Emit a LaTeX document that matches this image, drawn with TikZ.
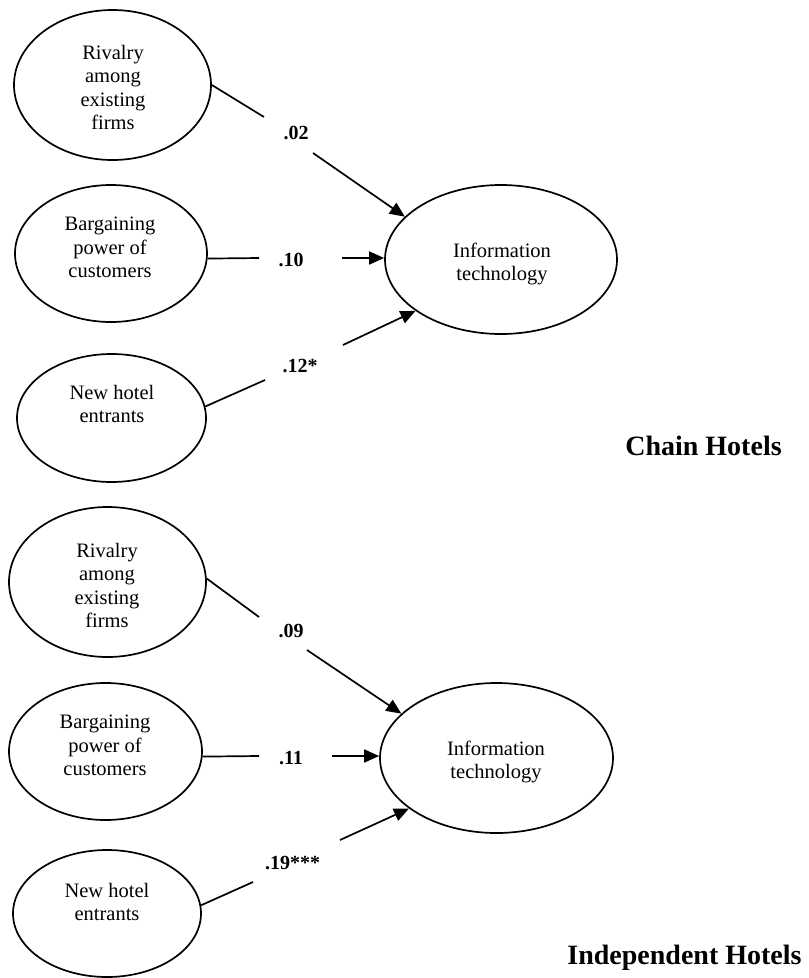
\documentclass[tikz,border=0pt]{standalone}
\usepackage{fontspec}
\setmainfont{Liberation Serif}
\usetikzlibrary{shapes.geometric,arrows.meta}
\begin{document}
\begin{tikzpicture}[x=1pt,y=-1pt,
  oval/.style={draw,ellipse,line width=1.7pt,inner sep=0pt},
  txt/.style={align=center,inner sep=0pt,font=\fontsize{20.5}{23.5}\selectfont},
  coef/.style={inner sep=0pt,anchor=base,font=\fontsize{20}{24}\selectfont\bfseries},
  grouplabel/.style={inner sep=0pt,anchor=base,font=\fontsize{28}{32}\selectfont\bfseries},
  link/.style={line width=1.7pt},
  arr/.style={link,-{Triangle[length=15pt,width=13pt]}}]
\useasboundingbox (0,0) rectangle (809,978);

% ---------- Chain hotels ----------
\node[oval,minimum width=197pt,minimum height=150pt] (r1) at (112.5,85) {};
\node[txt] (r1t) at (113,87.3) {Rivalry\\among\\existing\\firms};
\node[oval,minimum width=192pt,minimum height=137pt] (r2) at (111,253.5) {};
\node[txt] (r2t) at (110,247.5) {Bargaining\\power of\\customers};
\node[oval,minimum width=189pt,minimum height=128pt] (r3) at (111.5,418) {};
\node[txt] (r3t) at (112,404) {New hotel\\entrants};
\node[oval,minimum width=232pt,minimum height=149pt] (it1) at (501,259.5) {};
\node[txt] (it1t) at (502,264) {Information\\technology};

\node[coef] (k1) at (296,139.5) {.02};
\node[coef] (k2) at (291,266.5) {.10};
\node[coef] (k3) at (300,372.5) {.12*};

\coordinate (a1) at (264,117);  \coordinate (b1) at (313,153);
\coordinate (a2) at (259,258);  \coordinate (b2) at (342,258);
\coordinate (a3) at (265,380);  \coordinate (b3) at (343,345);

\draw[link] (r1.east) -- (a1);
\draw[arr] (b1) -- (it1.156);
\draw[link] (r2.-3) -- (a2);
\draw[arr] (b2) -- (it1.west |- b2);
\draw[link] (r3.7) -- (a3);
\draw[arr] (b3) -- (it1.211);

\node[grouplabel] (g1) at (703.5,455) {Chain Hotels};

% ---------- Independent hotels ----------
\node[oval,minimum width=197pt,minimum height=150pt] (r4) at (107.5,582) {};
\node[txt] (r4t) at (107,585.3) {Rivalry\\among\\existing\\firms};
\node[oval,minimum width=193pt,minimum height=137pt] (r5) at (105.5,751.5) {};
\node[txt] (r5t) at (105,745.5) {Bargaining\\power of\\customers};
\node[oval,minimum width=188pt,minimum height=127pt] (r6) at (107,913.5) {};
\node[txt] (r6t) at (107,902) {New hotel\\entrants};
\node[oval,minimum width=233pt,minimum height=150pt] (it2) at (496.5,758) {};
\node[txt] (it2t) at (496,762) {Information\\technology};

\node[coef] (k4) at (291,637) {.09};
\node[coef] (k5) at (291,764) {.11};
\node[coef] (k6) at (292.5,869) {.19***};

\coordinate (a4) at (259,617);  \coordinate (b4) at (307,650);
\coordinate (a5) at (259,756);  \coordinate (b5) at (332,756);
\coordinate (a6) at (253,882);  \coordinate (b6) at (340,840);

\draw[link] (r4.2) -- (a4);
\draw[arr] (b4) -- (it2.155);
\draw[link] (r5.-3) -- (a5);
\draw[arr] (b5) -- (it2.west |- b5);
\draw[link] (r6.5) -- (a6);
\draw[arr] (b6) -- (it2.210);

\node[grouplabel] (g2) at (684.5,964) {Independent Hotels};
\end{tikzpicture}
\end{document}
